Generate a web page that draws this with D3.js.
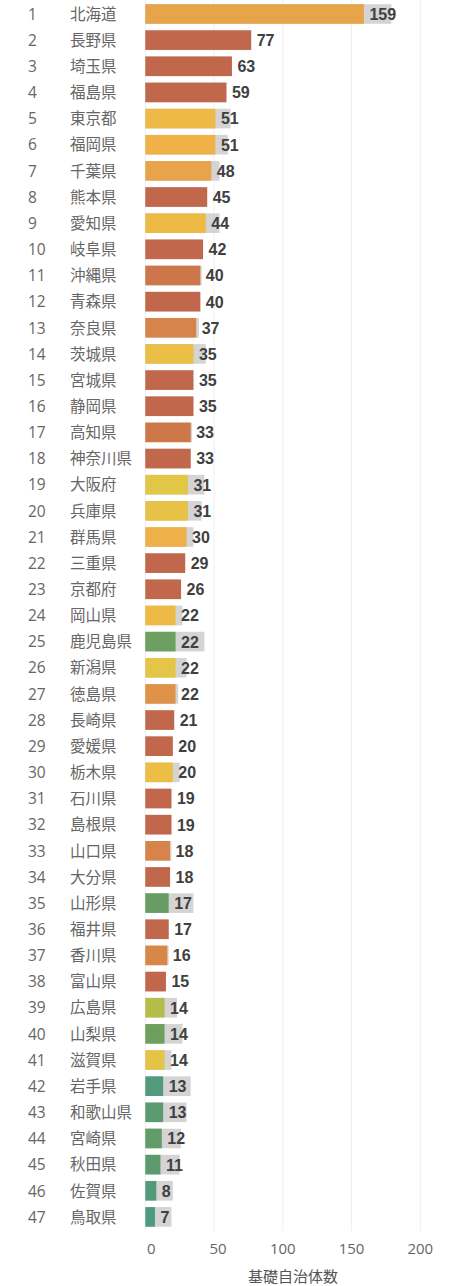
<!DOCTYPE html>
<html>
<head>
<meta charset="utf-8">
<script src="https://d3js.org/d3.v7.min.js"></script>
<style>
  body { margin: 0; background: #fff; }
  svg { display: block; }
</style>
</head>
<body>
<div id="chart"></div>
<script>
// prefectures, ranked
var prefs = ["北海道", "長野県", "埼玉県", "福島県", "東京都", "福岡県", "千葉県", "熊本県",
  "愛知県", "岐阜県", "沖縄県", "青森県", "奈良県", "茨城県", "宮城県", "静岡県", "高知県",
  "神奈川県", "大阪府", "兵庫県", "群馬県", "三重県", "京都府", "岡山県", "鹿児島県", "新潟県",
  "徳島県", "長崎県", "愛媛県", "栃木県", "石川県", "島根県", "山口県", "大分県", "山形県",
  "福井県", "香川県", "富山県", "広島県", "山梨県", "滋賀県", "岩手県", "和歌山県", "宮崎県",
  "秋田県", "佐賀県", "鳥取県"];

// labelled value (coloured bar)
var values = [159, 77, 63, 59, 51, 51, 48, 45, 44, 42, 40, 40, 37, 35, 35, 35, 33, 33, 31, 31,
  30, 29, 26, 22, 22, 22, 22, 21, 20, 20, 19, 19, 18, 18, 17, 17, 16, 15, 14, 14, 14, 13, 13,
  12, 11, 8, 7];

// all municipalities of the prefecture (grey bar)
var totals = [179, 77, 63, 59, 62, 60, 54, 45, 54, 42, 41, 40, 39, 44, 35, 35, 34, 33, 43, 41,
  35, 29, 26, 27, 43, 30, 24, 21, 20, 25, 19, 19, 19, 18, 35, 17, 17, 15, 23, 27, 19, 33, 30,
  26, 25, 20, 19];

var ticks = [0, 50, 100, 150, 200];
var axisTitle = "基礎自治体数";

var width = 452;
var height = 1286;

var svg = d3.select("#chart")
  .append("svg")
  .attr("width", width)
  .attr("height", height);

var x = d3.scaleLinear()
  .domain([0, 200])
  .range([145.3, 420.3]);

var y = d3.scaleBand()
  .domain(prefs)
  .range([0.9, 1230])
  .paddingInner(0.25)
  .paddingOuter(0.125);

// colour by share of municipalities
var color = d3.scaleLinear()
  .domain([0.37, 0.45, 0.52, 0.61, 0.72, 0.8, 0.85, 0.89, 0.92, 0.95, 0.975, 1])
  .range(["#4c9a82", "#5f9b6c", "#6e9f5e", "#b5bd4a", "#e2c646", "#ecbe45", "#f0b247",
    "#e7a44b", "#de9048", "#d6834a", "#cc7649", "#c1674b"])
  .clamp(true);

// grid
svg.append("g")
  .selectAll("line")
  .data(ticks)
  .join("line")
  .attr("x1", function(d) { return x(d); })
  .attr("x2", function(d) { return x(d); })
  .attr("y1", 0)
  .attr("y2", 1231)
  .attr("stroke", "#efefef")
  .attr("stroke-width", 1);

var rows = svg.append("g")
  .selectAll("g")
  .data(prefs)
  .join("g")
  .attr("transform", function(d) { return "translate(0," + y(d) + ")"; });

var bh = y.bandwidth();

rows.append("rect")
  .attr("x", x(0))
  .attr("width", function(d, i) { return x(totals[i]) - x(0); })
  .attr("height", bh)
  .attr("fill", "#d4d4d4");

rows.append("rect")
  .attr("x", x(0))
  .attr("width", function(d, i) { return x(values[i]) - x(0); })
  .attr("height", bh)
  .attr("fill", function(d, i) { return color(values[i] / totals[i]); });

rows.append("text")
  .attr("x", 28)
  .attr("y", bh / 2)
  .attr("dy", "0.37em")
  .attr("font-family", "'Open Sans', 'Noto Sans', sans-serif")
  .attr("font-size", 15.5)
  .attr("fill", "#666")
  .text(function(d, i) { return i + 1; });

rows.append("text")
  .attr("x", 70)
  .attr("y", bh / 2)
  .attr("dy", "0.37em")
  .attr("font-family", "'Noto Sans CJK JP', sans-serif")
  .attr("font-size", 15.5)
  .attr("fill", "#666")
  .text(function(d) { return d; });

rows.append("text")
  .attr("x", function(d, i) { return x(values[i]) + 5.5; })
  .attr("y", bh / 2)
  .attr("dy", "0.37em")
  .attr("font-family", "'Liberation Sans', Arial, sans-serif")
  .attr("font-weight", "bold")
  .attr("font-size", 16)
  .attr("fill", "#404040")
  .text(function(d, i) { return values[i]; });

// x axis labels
svg.append("g")
  .selectAll("text")
  .data(ticks)
  .join("text")
  .attr("x", function(d) { return x(d) + (d === 0 ? 6 : d === 50 ? 4 : 0); })
  .attr("y", 1249)
  .attr("dy", "0.36em")
  .attr("text-anchor", "middle")
  .attr("font-family", "'Open Sans', 'Noto Sans', sans-serif")
  .attr("font-size", 15)
  .attr("fill", "#666")
  .text(function(d) { return d; });

svg.append("text")
  .attr("x", 293)
  .attr("y", 1277)
  .attr("dy", "0.36em")
  .attr("text-anchor", "middle")
  .attr("font-family", "'Noto Sans CJK JP', sans-serif")
  .attr("font-size", 15)
  .attr("fill", "#555")
  .text(axisTitle);
</script>
</body>
</html>
